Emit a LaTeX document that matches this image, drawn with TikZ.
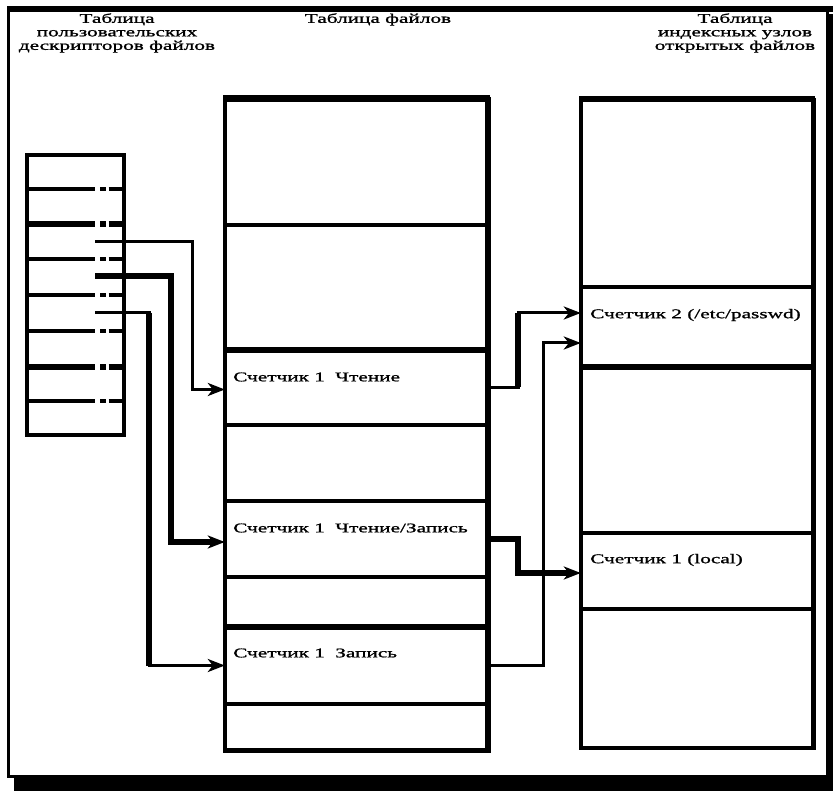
\documentclass[tikz,border=0pt]{standalone}
\usepackage{fontspec}
\setmainfont{Liberation Serif}[FakeStretch=1.6,FakeBold=1.2]
\usetikzlibrary{arrows.meta}
\begin{document}
\begin{tikzpicture}[x=1pt,y=-1pt,
  rowbox/.style={draw=none,inner sep=0pt,rectangle},
  lbl/.style={inner sep=0pt,anchor=west,font=\fontsize{13.3}{13.5}\selectfont},
  hdr/.style={inner sep=0pt,align=center,font=\fontsize{13.3}{13.5}\selectfont},
  thinln/.style={line width=3pt},
  thickln/.style={line width=5.6pt},
  conn/.style={line width=3pt,-{Stealth[length=17pt,width=13pt,inset=5pt]}},
  connthick/.style={line width=5.6pt,-{Stealth[length=17pt,width=13pt,inset=5pt]}},
  septhin/.style={line width=3.2pt},
  septhick/.style={line width=6pt},
  boxln/.style={line width=3.5pt}]
\useasboundingbox (0,0) rectangle (833,791);
\clip (0,0) rectangle (833,791);
% frame with shadow
\fill[black] (14,14) rectangle (860,830);
\filldraw[fill=white,draw=black,line width=3pt] (8,9) rectangle (827,776);
\draw[line width=5.5pt] (7,9) -- (833,9);

% headers
\node[hdr] (hL) at (117,33) {Таблица\\пользовательских\\дескрипторов файлов};
\node[hdr] (hM) at (378,19.5) {Таблица файлов};
\node[hdr] (hR) at (735,33) {Таблица\\индексных узлов\\открытых файлов};

% ---------- left table (user file descriptors)
\foreach \n/\c/\h in {d1/172/34,d2/206.5/35,d3/241.5/35,d4/277/36,d5/313/36,d6/349/36,d7/384/34,d8/418/34}
  \node[rowbox,minimum width=97pt,minimum height=\h pt] (\n) at (75.5,\c) {};
\draw[boxln] (27,155) rectangle (124,435);
\foreach \yy/\st in {189/septhin,224/septhick,259/septhin,295/septhin,331/septhin,367/septhick,401/septhin}
  \draw[\st] (27,\yy) -- (95,\yy) (100,\yy) -- (106,\yy) (108.5,\yy) -- (124,\yy);

% ---------- middle table (file table)
\foreach \n/\c/\h in {f1/161/128,f2/287.5/125,f3/387.5/75,f4/463/76,f5/539/76,f6/602/50,f7/665.5/77,f8/727/46}
  \node[rowbox,minimum width=263pt,minimum height=\h pt] (\n) at (356.5,\c) {};
\draw[boxln] (225,97) rectangle (488,750);
\draw[line width=7pt] (223.3,98.5) -- (490,98.5);
\draw[line width=6pt] (488,97) -- (488,752);
\draw[line width=5pt] (223.3,750) -- (491,750);
\foreach \yy/\st in {225/septhin,350/septhick,425/septhin,501/septhin,577/septhin,627/septhick,704/septhin}
  \draw[\st] (225,\yy) -- (488,\yy);
\node[lbl] (t1) at (233,377) {Счетчик 1\hspace{5pt} Чтение};
\node[lbl] (t2) at (233,528) {Счетчик 1\hspace{5pt} Чтение/Запись};
\node[lbl] (t3) at (233,653) {Счетчик 1\hspace{5pt} Запись};

% ---------- right table (in-core inode table)
\foreach \n/\c/\h in {i1/192.5/189,i2/327/80,i3/450/166,i4/571/76,i5/678.5/139}
  \node[rowbox,minimum width=232pt,minimum height=\h pt] (\n) at (697,\c) {};
\draw[boxln] (581,98) rectangle (813,748);
\draw[line width=6pt] (579.3,99.5) -- (814.7,99.5);
\draw[line width=5pt] (813,98) -- (813,750);
\foreach \yy/\st in {287/septhin,367/septhick,533/septhin,609/septhin}
  \draw[\st] (581,\yy) -- (813,\yy);
\node[lbl] (t4) at (590,315) {Счетчик 2 (/etc/passwd)};
\node[lbl] (t5) at (590,560) {Счетчик 1 (local)};

% ---------- connector helpers
\coordinate (p1) at ([xshift=19.5pt]d3.center);
\coordinate (p2) at ([xshift=19.5pt,yshift=1pt]d4.center);
\coordinate (p3) at ([xshift=19.5pt]d5.center);
\coordinate (v1) at (192,0);
\coordinate (v2) at (171,0);
\coordinate (v3) at (149,0);
\coordinate (r1) at (518,0);
\coordinate (r2) at (543,0);
\coordinate (in1) at ([yshift=14pt]i2.west);
\coordinate (in2) at ([yshift=-16pt]i2.west);

% left -> file table
\draw[conn] (p1) -- (p1 -| v1) |- ([yshift=-2pt]f3.west);
\draw[connthick] (p2) -- (p2 -| v2) |- ([yshift=-3pt]f5.west);
\draw[conn] (p3) -- (p3 -| v3) |- (f7.west);
\draw[thickln] (p3 -| v3) -- (f7.west -| v3);

% file table -> inode table
\draw[conn] (f3.east) -- (f3.east -| r1) |- (in1);
\draw[thickln] (f3.east -| r1) -- (in1 -| r1);
\draw[connthick] (f5.east) -- (f5.east -| r1) |- ([yshift=-2pt]i4.west);
\draw[conn] (f7.east) -- (f7.east -| r2) |- (in2);
\end{tikzpicture}
\end{document}
